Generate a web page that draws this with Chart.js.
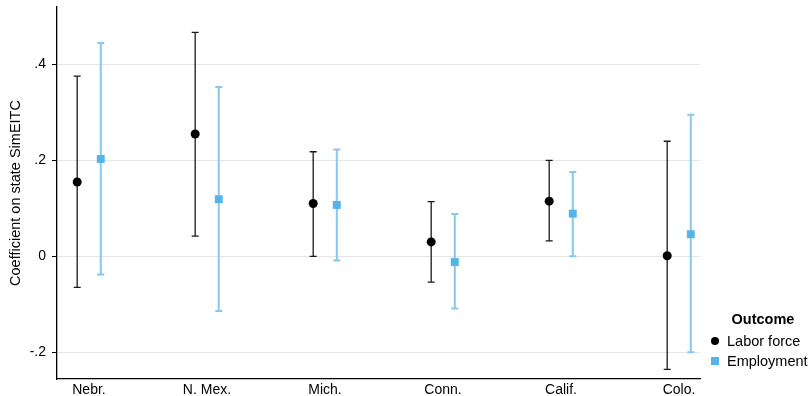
<!DOCTYPE html>
<html>
<head>
<meta charset="utf-8">
<script src="https://cdn.jsdelivr.net/npm/chart.js@4"></script>
<style>
  html, body { margin: 0; padding: 0; background: #fff; }
  #wrap { width: 810px; height: 396px; }
</style>
</head>
<body>
<div id="wrap"><canvas id="myChart" width="810" height="396"></canvas></div>
<script>
// categorias (estados) e ticks
const states = ['Nebr.', 'N. Mex.', 'Mich.', 'Conn.', 'Calif.', 'Colo.'];
const yTicks = [-0.2, 0, 0.2, 0.4];

// Labor force: coeficiente e intervalo
const laborCoef = [0.155, 0.255, 0.110, 0.030, 0.115, 0.001];
const laborLo   = [-0.065, 0.042, 0.000, -0.054, 0.032, -0.236];
const laborHi   = [0.376, 0.467, 0.218, 0.114, 0.200, 0.240];

// Employment: coeficiente e intervalo
const empCoef = [0.203, 0.119, 0.107, -0.012, 0.089, 0.046];
const empLo   = [-0.038, -0.114, -0.009, -0.109, 0.000, -0.200];
const empHi   = [0.445, 0.353, 0.223, 0.088, 0.176, 0.295];

const shift = 0.1;
const FONT = '"Liberation Sans", Arial, sans-serif';

// plugin simples para as barras de erro
const errorBars = {
  id: 'errorBars',
  beforeDatasetsDraw(chart) {
    const { ctx, scales: { x, y } } = chart;
    chart.data.datasets.forEach(ds => {
      ctx.save();
      ctx.strokeStyle = ds.barColor;
      ctx.lineWidth = ds.barWidth;
      ds.lo.forEach((lo, i) => {
        const px = x.getPixelForValue(ds.data[i].x);
        const p1 = y.getPixelForValue(lo);
        const p2 = y.getPixelForValue(ds.hi[i]);
        ctx.beginPath();
        ctx.moveTo(px, p1); ctx.lineTo(px, p2);
        ctx.moveTo(px - 3.5, p1); ctx.lineTo(px + 3.5, p1);
        ctx.moveTo(px - 3.5, p2); ctx.lineTo(px + 3.5, p2);
        ctx.stroke();
      });
      ctx.restore();
    });
  }
};

// legenda desenhada à mão, à direita do gráfico
const outcomeLegend = {
  id: 'outcomeLegend',
  afterDraw(chart) {
    const { ctx } = chart;
    const left = chart.chartArea.right + 15;
    ctx.save();
    ctx.fillStyle = '#000';
    ctx.textBaseline = 'middle';
    ctx.textAlign = 'center';
    ctx.font = 'bold 14.5px ' + FONT;
    ctx.fillText('Outcome', left + 48, 320);
    ctx.textAlign = 'left';
    ctx.font = '14.5px ' + FONT;
    chart.data.datasets.forEach((ds, i) => {
      const yy = 341 + i * 20;
      ctx.fillStyle = ds.backgroundColor;
      if (ds.pointStyle === 'circle') {
        ctx.beginPath();
        ctx.arc(left, yy, 4, 0, Math.PI * 2);
        ctx.fill();
      } else {
        ctx.fillRect(left - 4, yy - 4, 8, 8);
      }
      ctx.fillStyle = '#000';
      ctx.fillText(ds.label, left + 12, yy + 1);
    });
    ctx.restore();
  }
};

const data = {
  datasets: [
    {
      label: 'Labor force',
      data: laborCoef.map((v, i) => ({ x: i + 1 - shift, y: v })),
      lo: laborLo, hi: laborHi,
      barColor: '#1a1a1a', barWidth: 1.3,
      backgroundColor: '#000',
      borderColor: '#000',
      pointStyle: 'circle',
      pointRadius: 4.5,
      borderWidth: 0
    },
    {
      label: 'Employment',
      data: empCoef.map((v, i) => ({ x: i + 1 + shift, y: v })),
      lo: empLo, hi: empHi,
      barColor: '#85c8f0', barWidth: 2,
      backgroundColor: '#56b4e9',
      borderColor: '#56b4e9',
      pointStyle: 'rect',
      pointRadius: 5.6,
      borderWidth: 0
    }
  ]
};

const config = {
  type: 'scatter',
  data: data,
  plugins: [errorBars, outcomeLegend],
  options: {
    responsive: false,
    animation: false,
    layout: { padding: { top: 7, right: 110, left: 0, bottom: 0 } },
    plugins: {
      tooltip: { enabled: false },
      legend: { display: false }
    },
    scales: {
      x: {
        type: 'linear',
        min: 0.729, max: 6.178,
        afterBuildTicks: s => { s.ticks = states.map((_, i) => ({ value: i + 1 })); },
        afterFit: s => { s.height = 17; s.paddingLeft = 0; s.paddingRight = 0; },
        grid: { drawOnChartArea: false, drawTicks: false },
        border: { display: true, color: '#000', width: 1.3 },
        ticks: {
          padding: 3,
          color: '#000',
          font: { family: FONT, size: 14 },
          maxRotation: 0,
          callback: v => states[v - 1]
        }
      },
      y: {
        min: -0.256, max: 0.52,
        afterBuildTicks: s => { s.ticks = yTicks.map(v => ({ value: v })); },
        afterFit: s => { s.width = 57; s.paddingTop = 0; s.paddingBottom = 0; },
        grid: { color: '#e6e6e6', lineWidth: 1, tickLength: 5, tickColor: '#000' },
        border: { display: true, color: '#000', width: 1.3 },
        title: { display: true, text: 'Coefficient on state SimEITC', color: '#000', font: { family: FONT, size: 14.5 }, padding: { top: 7, bottom: 0 } },
        ticks: {
          padding: 6,
          color: '#000',
          font: { family: FONT, size: 14 },
          callback: v => v === 0 ? '0' : String(Math.round(v * 10) / 10).replace('0.', '.')
        }
      }
    }
  }
};

new Chart(document.getElementById('myChart'), config);
</script>
</body>
</html>
